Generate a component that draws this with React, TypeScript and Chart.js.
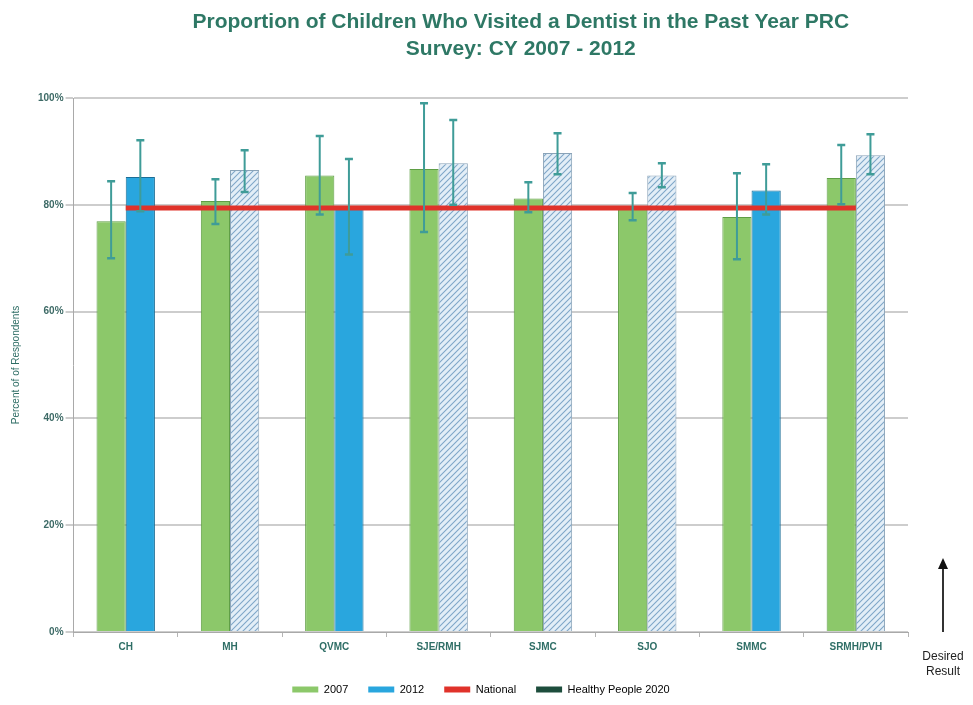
import React, { useEffect, useRef } from "react";
import { Chart, registerables } from "chart.js";

Chart.register(...registerables);

const categories = ["CH", "MH", "QVMC", "SJE/RMH", "SJMC", "SJO", "SMMC", "SRMH/PVH"];
const values2007 = [76.9, 80.7, 85.5, 86.7, 81.2, 79.2, 77.7, 85.0];
const low2007 = [70.0, 76.4, 78.2, 74.9, 78.6, 77.1, 69.8, 80.1];
const high2007 = [84.4, 84.8, 92.9, 99.0, 84.2, 82.2, 85.9, 91.2];
const values2012 = [85.2, 86.5, 79.2, 87.8, 89.7, 85.5, 82.7, 89.3];
const low2012 = [78.8, 82.4, 70.7, 80.0, 85.7, 83.3, 78.2, 85.7];
const high2012 = [92.1, 90.2, 88.6, 95.9, 93.4, 87.8, 87.6, 93.2];
const significant2012 = [true, false, true, false, false, false, true, false];
const nationalValue = 79.4;
const nationalLine = categories.map(() => nationalValue);
const healthyPeople = categories.map(() => null);
const yTicks = [0, 20, 40, 60, 80, 100];
const legendLabels = ["2007", "2012", "National", "Healthy People 2020"];

const GREEN = "#8cc86a";
const GREEN_BORDER = "#5f9e45";
const BLUE = "#29a6de";
const BLUE_BORDER = "#1b6d96";
const RED = "#e0322a";
const DARK_GREEN = "#1d4d3c";
const TEAL = "#3f9c98";
const TEXT_TEAL = "#2f6e66";

function makeHatch(): CanvasPattern | string {
  const c = document.createElement("canvas");
  c.width = 6;
  c.height = 6;
  const g = c.getContext("2d");
  if (!g) return "#cfe0ee";
  g.fillStyle = "#e3eef7";
  g.fillRect(0, 0, 6, 6);
  g.strokeStyle = "#7fa6c8";
  g.lineWidth = 1.1;
  g.beginPath();
  g.moveTo(0, 6);
  g.lineTo(6, 0);
  g.moveTo(-3, 3);
  g.lineTo(3, -3);
  g.moveTo(3, 9);
  g.lineTo(9, 3);
  g.stroke();
  const p = g.createPattern(c, "repeat");
  return p || "#cfe0ee";
}

const errorBarPlugin = {
  id: "errorBars",
  afterDatasetsDraw(chart: any) {
    const ctx = chart.ctx;
    const y = chart.scales.y;
    const sets = [
      { idx: 0, lo: low2007, hi: high2007 },
      { idx: 1, lo: low2012, hi: high2012 },
    ];
    ctx.save();
    ctx.strokeStyle = TEAL;
    sets.forEach((s) => {
      const meta = chart.getDatasetMeta(s.idx);
      meta.data.forEach((el: any, i: number) => {
        const x = el.x;
        const yl = y.getPixelForValue(s.lo[i]);
        const yh = y.getPixelForValue(s.hi[i]);
        ctx.lineWidth = 2;
        ctx.beginPath();
        ctx.moveTo(x, yl);
        ctx.lineTo(x, yh);
        ctx.stroke();
        ctx.lineWidth = 2.5;
        ctx.beginPath();
        ctx.moveTo(x - 4, yl);
        ctx.lineTo(x + 4, yl);
        ctx.moveTo(x - 4, yh);
        ctx.lineTo(x + 4, yh);
        ctx.stroke();
      });
    });
    ctx.restore();
  },
};

const legendShiftPlugin = {
  id: "legendShift",
  afterLayout(chart: any) {
    const lg = chart.legend;
    if (lg) {
      lg.left += 22;
      lg.right += 22;
    }
  },
};

const decorPlugin = {
  id: "decor",
  afterDraw(chart: any) {
    const ctx = chart.ctx;
    const area = chart.chartArea;
    ctx.save();
    // title
    ctx.fillStyle = "#2e7865";
    ctx.font = "bold 21px 'Liberation Sans', Arial, sans-serif";
    ctx.textAlign = "center";
    ctx.textBaseline = "middle";
    const cx = (area.left + area.right) / 2 + 30;
    ctx.fillText("Proportion of Children Who Visited a Dentist in the Past Year PRC", cx, 14);
    ctx.fillText("Survey: CY 2007 - 2012", cx, 41);
    // desired result arrow
    const ax = area.right + 35;
    const yTop = chart.scales.y.getPixelForValue(13.5);
    const yBot = area.bottom;
    ctx.strokeStyle = "#333";
    ctx.lineWidth = 2;
    ctx.beginPath();
    ctx.moveTo(ax, yBot);
    ctx.lineTo(ax, yTop + 8);
    ctx.stroke();
    ctx.fillStyle = "#111";
    ctx.beginPath();
    ctx.moveTo(ax, yTop - 2);
    ctx.lineTo(ax - 5, yTop + 9);
    ctx.lineTo(ax + 5, yTop + 9);
    ctx.closePath();
    ctx.fill();
    ctx.fillStyle = "#222";
    ctx.font = "12px 'Liberation Sans', Arial, sans-serif";
    ctx.fillText("Desired", ax, yBot + 25);
    ctx.fillText("Result", ax, yBot + 40);
    ctx.restore();
  },
};

export default function App() {
  const ref = useRef<HTMLCanvasElement | null>(null);

  useEffect(() => {
    if (!ref.current) return;
    const hatch = makeHatch();
    const bg2012 = significant2012.map((s) => (s ? BLUE : hatch));
    const border2012 = significant2012.map((s) => (s ? BLUE_BORDER : "#8aa3b8"));
    const legendFill = [GREEN, BLUE, RED, DARK_GREEN];

    const chart = new Chart(ref.current, {
      type: "bar",
      data: {
        labels: categories,
        datasets: [
          {
            label: legendLabels[0],
            data: values2007,
            backgroundColor: GREEN,
            borderColor: GREEN_BORDER,
            borderWidth: 1,
            categoryPercentage: 0.56,
            barPercentage: 1,
            order: 2,
          } as any,
          {
            label: legendLabels[1],
            data: values2012,
            backgroundColor: bg2012,
            borderColor: border2012,
            borderWidth: 1,
            categoryPercentage: 0.56,
            barPercentage: 1,
            order: 2,
          } as any,
          {
            type: "line",
            label: legendLabels[2],
            data: nationalLine,
            borderColor: RED,
            backgroundColor: RED,
            borderWidth: 5,
            pointRadius: 0,
            order: 0,
          } as any,
          {
            type: "line",
            label: legendLabels[3],
            data: healthyPeople,
            borderColor: DARK_GREEN,
            backgroundColor: DARK_GREEN,
            borderWidth: 5,
            pointRadius: 0,
            order: 1,
          } as any,
        ],
      },
      options: {
        animation: false,
        responsive: true,
        maintainAspectRatio: false,
        layout: { padding: { top: 90, right: 57, left: 2, bottom: 0 } },
        scales: {
          x: {
            offset: true,
            afterFit: (scale: any) => {
              scale.height += 7;
            },
            grid: {
              display: true,
              drawOnChartArea: false,
              drawTicks: true,
              tickLength: 5,
              offset: true,
              color: "#b5b5b5",
            },
            border: { display: true, color: "#a9a9a9", width: 1 },
            ticks: {
              color: TEXT_TEAL,
              font: { family: "'Liberation Sans', Arial, sans-serif", size: 10, weight: "bold" },
              padding: 4,
            },
          },
          y: {
            min: 0,
            max: 100,
            afterBuildTicks: (scale: any) => {
              scale.ticks = yTicks.map((v) => ({ value: v }));
            },
            grid: {
              color: "#cdcdcd",
              lineWidth: 2,
              tickLength: 8,
              drawTicks: true,
            },
            border: { display: true, color: "#a9a9a9", width: 1 },
            ticks: {
              color: "#3d6a66",
              font: { family: "'Liberation Sans', Arial, sans-serif", size: 10, weight: "bold" },
              padding: 2,
              callback: (v: any) => v + "%",
            },
            title: {
              display: true,
              text: "Percent of of Respondents",
              color: TEXT_TEAL,
              font: { family: "'Liberation Sans', Arial, sans-serif", size: 10 },
              padding: { top: 0, bottom: 14 },
            },
          },
        },
        plugins: {
          title: { display: false },
          tooltip: { enabled: false },
          legend: {
            position: "bottom",
            labels: {
              boxWidth: 26,
              boxHeight: 6,
              padding: 20,
              color: "#4d5a5a",
              font: { family: "'Liberation Sans', Arial, sans-serif", size: 11 },
              generateLabels: () =>
                legendLabels.map((t, i) => ({
                  text: t,
                  fillStyle: legendFill[i],
                  strokeStyle: legendFill[i],
                  lineWidth: 0,
                  datasetIndex: i,
                  hidden: false,
                })),
            },
          },
        },
      },
      plugins: [errorBarPlugin, legendShiftPlugin, decorPlugin],
    });
    return () => chart.destroy();
  }, []);

  return (
    <div style={{ position: "relative", width: "957px", height: "697px" }}>
      <canvas ref={ref} />
    </div>
  );
}
